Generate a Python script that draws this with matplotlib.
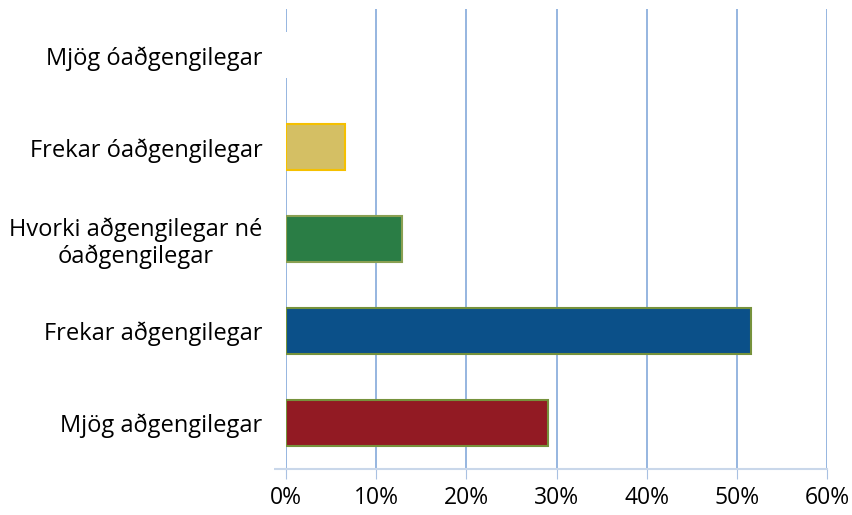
import matplotlib.pyplot as plt
from matplotlib.ticker import FuncFormatter

categories = ["Mjög aðgengilegar", "Frekar aðgengilegar",
              "Hvorki aðgengilegar né\nóaðgengilegar",
              "Frekar óaðgengilegar", "Mjög óaðgengilegar"]
values = [29.0, 51.6, 12.9, 6.5, 0.0]
fill_colors = ["#921a23", "#0b5089", "#2a7d45", "#d4bf64", "#ffffff"]
edge_colors = ["#76923c", "#76923c", "#8aa052", "#f5c000", "#ffffff"]
xticks = [0, 10, 20, 30, 40, 50, 60]

plt.rcParams['font.family'] = ['Open Sans', 'DejaVu Sans']

fig = plt.figure(figsize=(8.52, 5.15), dpi=100)
ax = fig.add_axes([0.3357, 0.0893, 0.6350, 0.8923])

pos = range(len(categories))
ax.barh(pos, values, height=0.5, color=fill_colors, edgecolor=edge_colors,
        linewidth=1.5, zorder=3)

ax.set_xlim(0, 60)
ax.set_ylim(-0.5, len(categories) - 0.5)
ax.set_xticks(xticks)
ax.xaxis.set_major_formatter(FuncFormatter(lambda v, p: f"{v:.0f}%"))
ax.set_yticks(list(pos))
ax.set_yticklabels(categories, fontsize=17, ha='right', multialignment='center',
                   linespacing=1.12)
ax.tick_params(axis='y', length=0, pad=17)
ax.tick_params(axis='x', length=7, color='#a9c1e2', labelsize=16.5, pad=5)
ax.set_yticks([-0.5], minor=True)
ax.tick_params(axis='y', which='minor', length=9, color='#c9d7ea', width=1.5)

ax.grid(axis='x', color='#8eb0dd', linewidth=1.3, zorder=0)
for s in ['top', 'right', 'left']:
    ax.spines[s].set_visible(False)
ax.spines['bottom'].set_color('#c9d7ea')
ax.spines['bottom'].set_linewidth(1.5)

fig.savefig("out.png", dpi=100)
